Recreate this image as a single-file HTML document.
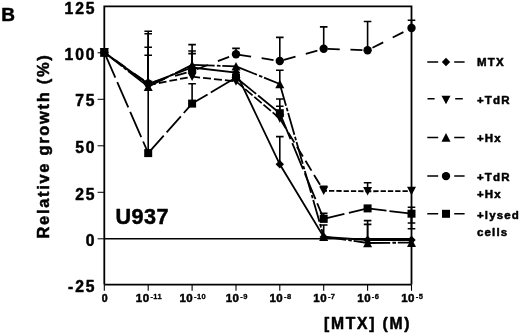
<!DOCTYPE html>
<html><head><meta charset="utf-8"><title>Figure B</title>
<style>html,body{margin:0;padding:0;background:#fff}svg{display:block}</style></head>
<body>
<svg width="520" height="335" viewBox="0 0 520 335">
<rect width="520" height="335" fill="#fff"/>
<g stroke="#000" stroke-width="1.5" fill="none">
<path d="M104.3,284.6V6.4H411.5V284.6M103.5,6.4H104.3M104.3,284.6H411.5" stroke-width="1.8"/>
<path d="M104.3,238.8H411.5" stroke-width="1.4"/>
<path d="M97.6,52.8H104.3" stroke-width="1"/>
<path d="M97.6,99.3H104.3" stroke-width="1"/>
<path d="M97.6,145.8H104.3" stroke-width="1"/>
<path d="M97.6,192.3H104.3" stroke-width="1"/>
<path d="M97.6,238.8H104.3" stroke-width="1"/>
<path d="M104.3,284.6V290.8" stroke-width="1.1"/>
<path d="M148.2,284.6V290.8" stroke-width="1.1"/>
<path d="M192.1,284.6V290.8" stroke-width="1.1"/>
<path d="M236.0,284.6V290.8" stroke-width="1.1"/>
<path d="M279.8,284.6V290.8" stroke-width="1.1"/>
<path d="M323.7,284.6V290.8" stroke-width="1.1"/>
<path d="M367.6,284.6V290.8" stroke-width="1.1"/>
<path d="M411.5,284.6V290.8" stroke-width="1.1"/>
</g>
<g stroke="#000" stroke-width="1.8" fill="none">
<polyline points="104.3,52.4 148.2,84.0 192.1,67.5 236.0,72.5 279.8,164.3 323.7,237.0 367.6,240.0 411.5,240.0"/>
<path d="M104.3,52.4L148.2,85.0" stroke-dasharray="7 2.7" stroke-dashoffset="0"/>
<path d="M148.2,85.0L192.1,76.7" stroke-dasharray="7.8 3" stroke-dashoffset="0"/>
<path d="M192.1,76.7L236.0,81.4" stroke-dasharray="8 3" stroke-dashoffset="0"/>
<path d="M236.0,81.4L279.8,118.5" stroke-dasharray="9.7 2.3" stroke-dashoffset="0"/>
<path d="M279.8,118.5L323.7,190.8" stroke-dasharray="11.5 5" stroke-dashoffset="0"/>
<path d="M323.7,190.8L367.6,191.3" stroke-dasharray="5.3 2" stroke-dashoffset="2.0"/>
<path d="M367.6,191.3L411.5,191.0" stroke-dasharray="5.3 2" stroke-dashoffset="1.6"/>
<path d="M104.3,52.4L148.2,86.7" stroke-dasharray="22.6 2.2 3.6 1.8"/>
<path d="M148.2,86.7L192.1,64.9" stroke-dasharray="22.6 2.2 3.6 1.8"/>
<path d="M192.1,64.9L236.0,66.3" stroke-dasharray="22.6 2.2 3.6 1.8"/>
<path d="M236.0,66.3L279.8,84.0" stroke-dasharray="22.6 2.2 3.6 1.8"/>
<path d="M279.8,84.0L323.7,236.6" stroke-dasharray="22.6 2.2 3.6 1.8"/>
<path d="M323.7,236.6L367.6,243.0" stroke-dasharray="22.6 2.2 3.6 1.8"/>
<path d="M367.6,243.0L411.5,242.6" stroke-dasharray="22.6 2.2 3.6 1.8"/>
<polyline points="104.3,52.4 148.2,83.5 192.1,71.0 236.0,54.3 279.8,61.0 323.7,48.8 367.6,50.3 411.5,28.0" stroke-dasharray="12 10.67" stroke-dashoffset="9"/>
<path d="M104.3,52.4L148.2,153.1" stroke-dasharray="27.6 4.8"/>
<path d="M148.2,153.1L192.1,103.6" stroke-dasharray="23.4 4.4 21.4 4.4 30"/>
<path d="M192.1,103.6L236.0,77.5" stroke-dasharray="18 3.7 40"/>
<path d="M236.0,77.5L279.8,113.2" stroke-dasharray="26 2.5 40"/>
<path d="M279.8,113.2L323.7,218.9" stroke-dasharray="28 4.5"/>
<path d="M323.7,218.9L367.6,208.4" stroke-dasharray="21.3 4.6 30"/>
<path d="M367.6,208.4L411.5,213.7" stroke-dasharray="19 3 30"/>
</g>
<g stroke="#000" stroke-width="1.6" fill="none">
<path d="M148.2,153V31.3M144.4,31.3H152.0"/>
<path d="M148.2,83V33.7M144.4,33.7H152.0"/>
<path d="M148.2,83V47.3M144.4,47.3H152.0"/>
<path d="M148.2,83V55.3M144.4,55.3H152.0"/>
<path d="M192.1,66V44.6M188.3,44.6H195.9"/>
<path d="M192.1,66V51.0M188.3,51.0H195.9"/>
<path d="M192.1,66V53.6M188.3,53.6H195.9"/>
<path d="M192.1,103V83.8M188.3,83.8H195.9"/>
<path d="M236.0,53V48.4M232.2,48.4H239.8"/>
<path d="M279.8,61V37.4M276.0,37.4H283.6"/>
<path d="M279.8,84V70.2M276.0,70.2H283.6"/>
<path d="M279.8,114V99.0M276.0,99.0H283.6"/>
<path d="M279.8,114V106.2M276.0,106.2H283.6"/>
<path d="M279.8,163V136.6M276.0,136.6H283.6"/>
<path d="M323.7,48.8V26.9M319.9,26.9H327.5"/>
<path d="M323.7,190V186.4M319.9,186.4H327.5"/>
<path d="M323.7,218V213.4M319.9,213.4H327.5"/>
<path d="M323.7,236V225.0M319.9,225.0H327.5"/>
<path d="M367.6,50.3V21.5M363.8,21.5H371.4"/>
<path d="M367.6,191V182.8M363.8,182.8H371.4"/>
<path d="M367.6,242V220.6M363.8,220.6H371.4"/>
<path d="M367.6,242V224.4M363.8,224.4H371.4"/>
<path d="M411.5,28V20.2M407.7,20.2H415.3"/>
<path d="M411.5,213V207.2M407.7,207.2H415.3"/>
<path d="M411.5,213V223M407.7,223H415.3"/>
<path d="M411.5,213V228.7M407.7,228.7H415.3"/>
</g>
<g fill="#000">
<path d="M104.3,48.2L108.5,52.4L104.3,56.6L100.1,52.4Z"/>
<path d="M104.3,56.7L108.8,48.1H99.8Z"/>
<path d="M104.3,48.1L108.8,56.7H99.8Z"/>
<circle cx="104.3" cy="52.4" r="4.2"/>
<rect x="100.3" y="48.4" width="8.0" height="8.0"/>
<path d="M148.2,79.8L152.4,84.0L148.2,88.2L144.0,84.0Z"/>
<path d="M148.2,89.3L152.7,80.7H143.7Z"/>
<path d="M148.2,82.4L152.7,91.0H143.7Z"/>
<circle cx="148.2" cy="83.5" r="4.2"/>
<rect x="144.2" y="149.1" width="8.0" height="8.0"/>
<path d="M192.1,63.3L196.3,67.5L192.1,71.7L187.9,67.5Z"/>
<path d="M192.1,81.0L196.6,72.4H187.6Z"/>
<path d="M192.1,60.6L196.6,69.2H187.6Z"/>
<circle cx="192.1" cy="71.0" r="4.2"/>
<rect x="188.1" y="99.6" width="8.0" height="8.0"/>
<path d="M236.0,68.3L240.2,72.5L236.0,76.7L231.8,72.5Z"/>
<path d="M236.0,85.7L240.5,77.1H231.5Z"/>
<path d="M236.0,62.0L240.5,70.6H231.5Z"/>
<circle cx="236.0" cy="54.3" r="4.2"/>
<rect x="232.0" y="73.5" width="8.0" height="8.0"/>
<path d="M279.8,160.1L284.0,164.3L279.8,168.5L275.6,164.3Z"/>
<path d="M279.8,122.8L284.3,114.2H275.3Z"/>
<path d="M279.8,79.7L284.3,88.3H275.3Z"/>
<circle cx="279.8" cy="61.0" r="4.2"/>
<rect x="275.8" y="109.2" width="8.0" height="8.0"/>
<path d="M323.7,232.8L327.9,237.0L323.7,241.2L319.5,237.0Z"/>
<path d="M323.7,195.1L328.2,186.5H319.2Z"/>
<path d="M323.7,232.3L328.2,240.9H319.2Z"/>
<circle cx="323.7" cy="48.8" r="4.2"/>
<rect x="319.7" y="214.9" width="8.0" height="8.0"/>
<path d="M367.6,235.8L371.8,240.0L367.6,244.2L363.4,240.0Z"/>
<path d="M367.6,195.6L372.1,187.0H363.1Z"/>
<path d="M367.6,238.7L372.1,247.3H363.1Z"/>
<circle cx="367.6" cy="50.3" r="4.2"/>
<rect x="363.6" y="204.4" width="8.0" height="8.0"/>
<path d="M411.5,235.8L415.7,240.0L411.5,244.2L407.3,240.0Z"/>
<path d="M411.5,195.3L416.0,186.7H407.0Z"/>
<path d="M411.5,238.3L416.0,246.9H407.0Z"/>
<circle cx="411.5" cy="28.0" r="4.2"/>
<rect x="407.5" y="209.7" width="8.0" height="8.0"/>
</g>
<g stroke="#000" stroke-width="1.5">
<path d="M427.3,62H438.2M454.2,62H464.6"/>
<path d="M427.5,98.8H434.6M455.2,98.8H462.8"/>
<path d="M427.3,137.4H438.2M454.2,137.4H464.6"/>
<path d="M427.3,176.1H438.2M454.2,176.1H464.6"/>
<path d="M427.3,213.8H438.2M454.2,213.8H464.6"/>
</g><g fill="#000">
<path d="M446.0,57.8L450.2,62.0L446.0,66.2L441.8,62.0Z"/>
<path d="M446.0,104.3L450.5,95.7H441.5Z"/>
<path d="M446.0,133.1L450.5,141.7H441.5Z"/>
<circle cx="446.0" cy="176.1" r="4.2"/>
<rect x="442.0" y="209.8" width="8.0" height="8.0"/>
</g>
<g font-family="&quot;Liberation Sans&quot;, Arial, Helvetica, sans-serif" font-weight="bold" fill="#000" stroke="#000" stroke-width="0.5" stroke-linejoin="round">
<text x="1.3" y="21.3" font-size="19">B</text>
<text x="96.4" y="13.8" font-size="15.7" text-anchor="end" letter-spacing="1.9">125</text>
<text x="96.4" y="59.8" font-size="15.7" text-anchor="end" letter-spacing="1.9">100</text>
<text x="96.4" y="106.3" font-size="15.7" text-anchor="end" letter-spacing="1.9">75</text>
<text x="96.4" y="152.8" font-size="15.7" text-anchor="end" letter-spacing="1.9">50</text>
<text x="96.4" y="199.6" font-size="15.7" text-anchor="end" letter-spacing="1.9">25</text>
<text x="96.4" y="246.1" font-size="15.7" text-anchor="end" letter-spacing="1.9">0</text>
<text x="96.4" y="292.0" font-size="15.7" text-anchor="end" letter-spacing="1.9">-25</text>
<text x="115.6" y="224.2" font-size="21.6" letter-spacing="0.4">U937</text>
<text x="324" y="329.3" font-size="15.7" letter-spacing="1.75">[MTX] (M)</text>
<text transform="translate(49.3,238.5) rotate(-90)" font-size="16.5" letter-spacing="1.68">Relative growth (%)</text>
<text x="104.6" y="302" font-size="10.6" text-anchor="middle">0</text>
<text x="148.9" y="302.3" font-size="11.5" text-anchor="middle"><tspan letter-spacing="0.5">10</tspan><tspan dx="0.8" dy="-3.3" font-size="7.5" letter-spacing="0.4" stroke-width="0.3">-11</tspan></text>
<text x="192.8" y="302.3" font-size="11.5" text-anchor="middle"><tspan letter-spacing="0.5">10</tspan><tspan dx="0.8" dy="-3.3" font-size="7.5" letter-spacing="0.4" stroke-width="0.3">-10</tspan></text>
<text x="236.7" y="302.3" font-size="11.5" text-anchor="middle"><tspan letter-spacing="0.5">10</tspan><tspan dx="0.8" dy="-3.3" font-size="7.5" letter-spacing="0.4" stroke-width="0.3">-9</tspan></text>
<text x="280.5" y="302.3" font-size="11.5" text-anchor="middle"><tspan letter-spacing="0.5">10</tspan><tspan dx="0.8" dy="-3.3" font-size="7.5" letter-spacing="0.4" stroke-width="0.3">-8</tspan></text>
<text x="324.4" y="302.3" font-size="11.5" text-anchor="middle"><tspan letter-spacing="0.5">10</tspan><tspan dx="0.8" dy="-3.3" font-size="7.5" letter-spacing="0.4" stroke-width="0.3">-7</tspan></text>
<text x="368.3" y="302.3" font-size="11.5" text-anchor="middle"><tspan letter-spacing="0.5">10</tspan><tspan dx="0.8" dy="-3.3" font-size="7.5" letter-spacing="0.4" stroke-width="0.3">-6</tspan></text>
<text x="412.2" y="302.3" font-size="11.5" text-anchor="middle"><tspan letter-spacing="0.5">10</tspan><tspan dx="0.8" dy="-3.3" font-size="7.5" letter-spacing="0.4" stroke-width="0.3">-5</tspan></text>
<text x="477" y="66.2" font-size="11.5" letter-spacing="1.15">MTX</text>
<text x="477" y="104.2" font-size="11.5" letter-spacing="1.15">+TdR</text>
<text x="477" y="141.6" font-size="11.5" letter-spacing="1.15">+Hx</text>
<text x="477" y="180.5" font-size="11.5" letter-spacing="1.15">+TdR</text>
<text x="477" y="198.3" font-size="11.5" letter-spacing="1.15">+Hx</text>
<text x="477" y="218.7" font-size="11.5" letter-spacing="1.15">+lysed</text>
<text x="477" y="236" font-size="11.5" letter-spacing="1.15">cells</text>
</g>
</svg>
</body></html>
